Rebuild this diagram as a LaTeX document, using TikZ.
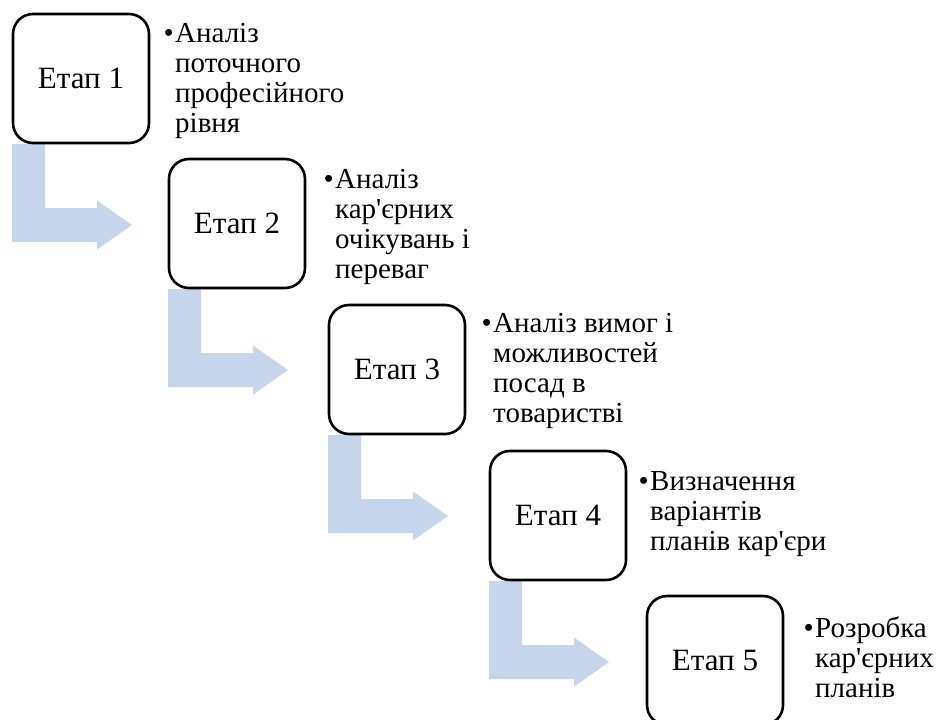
\documentclass[tikz,border=0pt]{standalone}
\usepackage{fontspec}
\setmainfont{Liberation Serif}
\usetikzlibrary{backgrounds}
\definecolor{arrowblue}{RGB}{198,213,235}
\tikzset{
  stagebox/.style={draw=black, line width=2.6pt, rounded corners=20pt,
    minimum width=136pt, minimum height=129pt, fill=white, inner sep=0pt,
    outer sep=0pt, font=\fontsize{31}{31}\selectfont},
  desc/.style={anchor=base west, inner sep=0pt,
    font=\fontsize{29}{30}\selectfont},
  bendarrow/.pic={\fill[arrowblue] (0,0) -- (33,0) -- (33,64) -- (85,64)
    -- (85,56.5) -- (120,81) -- (85,105.5) -- (85,98) -- (0,98) -- cycle;}
}
\newcommand{\bul}{\llap{\textbullet\hspace{1.5pt}}}
\newcommand{\desctext}[1]{\parbox[t]{250pt}{\raggedright\noindent\bul #1}}
\newcommand{\apo}{\textquotesingle}
\begin{document}
\begin{tikzpicture}[x=1pt,y=-1pt]
\useasboundingbox (0,0) rectangle (937,720);
\clip (0,0) rectangle (937,720);
\node[stagebox] (b1) at (81,78.5) {Етап 1};
\node[stagebox] (b2) at (237,223.5) {Етап 2};
\node[stagebox] (b3) at (397,369.5) {Етап 3};
\node[stagebox] (b4) at (558,515.5) {Етап 4};
\node[stagebox] (b5) at (715,660.5) {Етап 5};
\begin{scope}[on background layer]
\pic at ([shift={(-1,1)}]b1.south west) {bendarrow};
\pic at ([shift={(-1,1)}]b2.south west) {bendarrow};
\pic at ([shift={(-1,1)}]b3.south west) {bendarrow};
\pic at ([shift={(-1,1)}]b4.south west) {bendarrow};
\end{scope}
\node[desc] (t1) at (175,42) {\desctext{Аналіз\\поточного\\професійного\\рівня}};
\node[desc] (t2) at (335,188) {\desctext{Аналіз\\кар\apo єрних\\очікувань і\\переваг}};
\node[desc] (t3) at (493,332) {\desctext{Аналіз вимог і\\можливостей\\посад в\\товаристві}};
\node[desc] (t4) at (650,490) {\desctext{Визначення\\варіантів\\планів кар\apo єри}};
\node[desc] (t5) at (815,637) {\desctext{Розробка\\кар\apo єрних\\планів}};
\end{tikzpicture}
\end{document}
